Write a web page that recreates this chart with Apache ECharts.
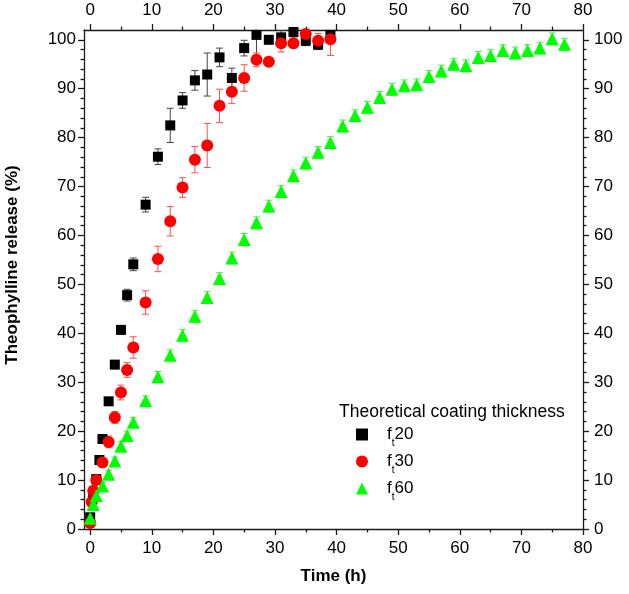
<!DOCTYPE html>
<html><head><meta charset="utf-8">
<script src="https://cdn.jsdelivr.net/npm/echarts@6/dist/echarts.min.js"></script>
<style>html,body{margin:0;padding:0;background:#fff}#c{width:629px;height:594px}</style>
</head><body><div id="c"></div>
<script>
const seriesNames = ['ft20', 'ft30', 'ft60'];
const legendTitle = 'Theoretical coating thickness';
const xName = 'Time (h)';
const yName = 'Theophylline release (%)';

const xTicks = [0, 10, 20, 30, 40, 50, 60, 70, 80];
const xMinor = [5, 15, 25, 35, 45, 55, 65, 75];
const yTicks = [0, 10, 20, 30, 40, 50, 60, 70, 80, 90, 100];
const yMinor = [2, 4, 6, 8, 12, 14, 16, 18, 22, 24, 26, 28, 32, 34, 36, 38, 42, 44, 46, 48, 52, 54, 56, 58, 62, 64, 66, 68, 72, 74, 76, 78, 82, 84, 86, 88, 92, 94, 96, 98];

const t20 = [0, 0.5, 1, 1.5, 2, 3, 4, 5, 6, 7, 9, 11, 13, 15, 17, 19, 21, 23, 25, 27, 29, 31, 33, 35, 37, 39];
const y20 = [2.4, 6.7, 10.2, 14.1, 18.4, 26.1, 33.6, 40.7, 47.8, 54.1, 66.3, 76.1, 82.5, 87.6, 91.7, 92.9, 96.4, 92.2, 98.3, 101, 100, 100.5, 101.6, 99.8, 99, 101];
const e20 = [0.5, 0.5, 0.5, 0.5, 0.6, 0.6, 0.8, 0.8, 1.2, 1.3, 1.5, 1.6, 3.5, 1.6, 2, 4.4, 1.9, 2, 1.6, 5, 0.8, 1.5, 1, 1, 1, 1];

const t30 = [0, 0.25, 0.5, 1, 2, 3, 4, 5, 6, 7, 9, 11, 13, 15, 17, 19, 21, 23, 25, 27, 29, 31, 33, 35, 37, 39];
const y30 = [1.2, 5.5, 7.8, 10, 13.6, 17.8, 22.8, 27.9, 32.5, 37.1, 46.3, 55.2, 62.9, 69.8, 75.5, 78.4, 86.5, 89.4, 92.2, 95.9, 95.5, 99.3, 99.3, 101.2, 99.8, 100.1];
const e30 = [0.3, 0.4, 0.5, 0.6, 0.8, 1.2, 1.2, 1.5, 1.5, 2.2, 2.4, 2.6, 3, 2, 2.7, 4.5, 3.4, 2.4, 2.7, 1.4, 0.6, 1.8, 1, 1, 1.5, 3.3];

const t60 = [0, 0.5, 1, 2, 3, 4, 5, 6, 7, 9, 11, 13, 15, 17, 19, 21, 23, 25, 27, 29, 31, 33, 35, 37, 39, 41, 43, 45, 47, 49, 51, 53, 55, 57, 59, 61, 63, 65, 67, 69, 71, 73, 75, 77];
const y60 = [2.2, 5, 6.8, 8.8, 11.2, 13.9, 16.9, 19.1, 21.8, 26.2, 31.1, 35.5, 39.6, 43.5, 47.3, 51.2, 55.4, 59.2, 62.6, 66.0, 69.0, 72.2, 74.8, 77.0, 79.0, 82.4, 84.5, 86.2, 88.2, 89.9, 90.6, 90.8, 92.5, 93.6, 95.0, 94.7, 96.4, 96.8, 97.8, 97.3, 97.8, 98.3, 100.2, 99.1];
const e60 = [0.5, 0.6, 0.6, 0.7, 0.8, 0.8, 0.9, 0.9, 1, 1, 1.1, 1.1, 1.2, 1.2, 1.2, 1.2, 1.2, 1.2, 1.2, 1.2, 1.2, 1.2, 1.2, 1.2, 1.2, 1.2, 1.2, 1.2, 1.2, 1.2, 1.2, 1.2, 1.2, 1.2, 1.2, 1.2, 1.2, 1.2, 1.2, 1.2, 1.2, 1.2, 1.2, 1.2];

const FONT = '"Liberation Sans", Arial, sans-serif';
const AX = '#1a1a1a';

function xAx(pos, ticks, len, labels, line) {
  return {
    type: 'value', position: pos, min: -1, max: 80, splitLine: { show: false },
    axisLine: { show: line, onZero: false, lineStyle: { color: AX, width: 1.3 } },
    axisTick: { show: true, inside: false, length: len, customValues: ticks, lineStyle: { color: AX, width: 1.3 } },
    axisLabel: { show: labels, customValues: ticks, margin: 11, fontSize: 17, color: '#000', fontFamily: FONT },
    axisPointer: { show: false }
  };
}
function yAx(pos, ticks, len, labels, line) {
  return {
    type: 'value', position: pos, min: 0, max: 102, splitLine: { show: false },
    axisLine: { show: line, onZero: false, lineStyle: { color: AX, width: 1.3 } },
    axisTick: { show: true, inside: false, length: len, customValues: ticks, lineStyle: { color: AX, width: 1.3 } },
    axisLabel: { show: labels, customValues: ticks, margin: pos === 'left' ? 8 : 11, fontSize: 17, color: '#000', fontFamily: FONT },
    axisPointer: { show: false }
  };
}

function errSeries(t, y, e, color) {
  return {
    type: 'custom', xAxisIndex: 0, yAxisIndex: 0, clip: true, silent: true,
    data: t.map((x, i) => [x, y[i] - e[i], y[i] + e[i]]),
    encode: { x: 0, y: [1, 2] },
    renderItem(params, api) {
      const x = api.value(0);
      const lo = api.coord([x, api.value(1)]);
      const hi = api.coord([x, api.value(2)]);
      const w = 3.5;
      const st = { stroke: color, lineWidth: 1 };
      return {
        type: 'group', children: [
          { type: 'line', shape: { x1: lo[0], y1: lo[1], x2: hi[0], y2: hi[1] }, style: st },
          { type: 'line', shape: { x1: lo[0] - w, y1: lo[1], x2: lo[0] + w, y2: lo[1] }, style: st },
          { type: 'line', shape: { x1: hi[0] - w, y1: hi[1], x2: hi[0] + w, y2: hi[1] }, style: st }
        ]
      };
    }
  };
}
function scat(name, t, y, symbol, size, color) {
  return {
    type: 'scatter', name, xAxisIndex: 0, yAxisIndex: 0, clip: true,
    data: t.map((x, i) => [x, y[i]]), symbol, symbolSize: size,
    itemStyle: { color, opacity: 1 }
  };
}

const chart = echarts.init(document.getElementById('c'));
const xMain = xAx('bottom', xTicks, 6, true, true);
xMain.name = xName;
xMain.nameLocation = 'middle';
xMain.nameGap = 39;
xMain.nameTextStyle = { fontSize: 17, fontWeight: 'bold', color: '#000', fontFamily: FONT };

chart.setOption({
  animation: false,
  backgroundColor: '#fff',
  grid: { left: 84, right: 46, top: 30, bottom: 65, containLabel: false },
  xAxis: [xMain, xAx('top', xTicks, 6, true, true), xAx('bottom', xMinor, 3.5, false, false), xAx('top', xMinor, 3.5, false, false)],
  yAxis: [yAx('left', yTicks, 6, true, true), yAx('right', yTicks, 6, true, true), yAx('left', yMinor, 3.5, false, false), yAx('right', yMinor, 3.5, false, false)],
  legend: {
    data: seriesNames, orient: 'vertical', left: 351, top: 418,
    itemWidth: 12, itemHeight: 12, itemGap: 1.5, selectedMode: false,
    formatter: n => '{f|f}{t|t}{n|' + n.slice(2) + '}',
    textStyle: {
      rich: {
        f: { fontSize: 17, fontFamily: FONT, color: '#000', lineHeight: 20, padding: [3, 0, 3, 14] },
        t: { fontSize: 10, fontFamily: FONT, color: '#000', lineHeight: 10, padding: [14, 0, 0, 0], verticalAlign: 'top' },
        n: { fontSize: 17, fontFamily: FONT, color: '#000', lineHeight: 20, padding: [3, 0, 3, 0] }
      }
    }
  },
  graphic: [
    { type: 'text', x: 12, y: 265, rotation: Math.PI / 2,
      style: { text: yName, font: 'bold 17px ' + FONT, fill: '#000', textAlign: 'center', textVerticalAlign: 'middle' } },
    { type: 'text', x: 339, y: 412,
      style: { text: legendTitle, font: '17.5px ' + FONT, fill: '#000', textAlign: 'left', textVerticalAlign: 'middle' } }
  ],
  series: [
    errSeries(t20, y20, e20, '#444'),
    scat(seriesNames[0], t20, y20, 'rect', 10, '#000'),
    errSeries(t30, y30, e30, '#ff5050'),
    scat(seriesNames[1], t30, y30, 'circle', 12, '#ff0000'),
    errSeries(t60, y60, e60, '#55ee55'),
    scat(seriesNames[2], t60, y60, 'triangle', 13, '#00ff00')
  ]
});
</script></body></html>
